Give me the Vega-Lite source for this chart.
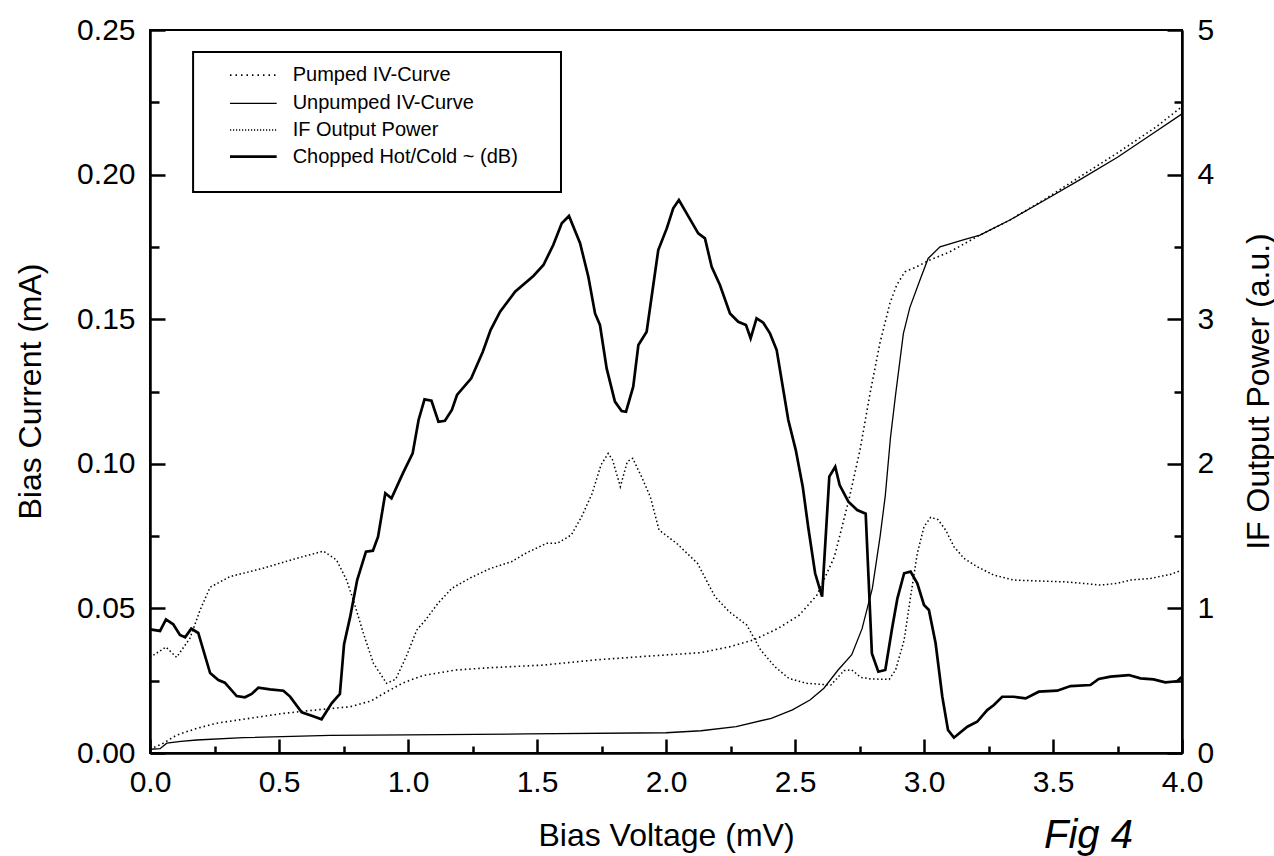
{
"$schema": "https://vega.github.io/schema/vega-lite/v6.json",
"width": 1032, "height": 723,
"autosize": {"type": "none"},
"padding": {"left": 150, "top": 30, "right": 92, "bottom": 103},
"background": "white",
"config": {
 "view": {"stroke": "black", "strokeWidth": 2},
 "font": "Liberation Sans",
 "axis": {"grid": false, "labelFlush": false, "labelOverlap": false, "labelBound": false, "labelColor": "black", "titleColor": "black", "domainColor": "black", "tickColor": "black", "titleFontWeight": "normal", "labelFont": "Liberation Sans", "titleFont": "Liberation Sans"}
},
"datasets": {
 "pumped": [
  {"v":0,"i":0.0013},{"v":0.052,"i":0.0034},{"v":0.103,"i":0.0062},{"v":0.181,"i":0.0085},{"v":0.258,"i":0.0103},{"v":0.387,"i":0.012},{"v":0.517,"i":0.0137},{"v":0.646,"i":0.0149},{"v":0.776,"i":0.016},{"v":0.857,"i":0.018},{"v":0.904,"i":0.0205},{"v":0.982,"i":0.0243},{"v":1.059,"i":0.0268},{"v":1.184,"i":0.0287},{"v":1.32,"i":0.0295},{"v":1.524,"i":0.0304},{"v":1.728,"i":0.0322},{"v":1.932,"i":0.0335},{"v":2.136,"i":0.0347},{"v":2.245,"i":0.0367},{"v":2.34,"i":0.0391},{"v":2.435,"i":0.0431},{"v":2.517,"i":0.0477},{"v":2.585,"i":0.0546},{"v":2.653,"i":0.0679},{"v":2.71,"i":0.088},{"v":2.752,"i":0.1048},{"v":2.791,"i":0.1244},{"v":2.829,"i":0.1417},{"v":2.868,"i":0.1555},{"v":2.894,"i":0.1618},{"v":2.926,"i":0.1664},{"v":2.971,"i":0.1681},{"v":3.016,"i":0.1702},{"v":3.1,"i":0.1733},{"v":3.217,"i":0.1791},{"v":3.333,"i":0.1843},{"v":3.469,"i":0.1915},{"v":3.6,"i":0.199},{"v":3.75,"i":0.2075},{"v":3.9,"i":0.2165},{"v":4.0,"i":0.2235}
 ],
 "unpumped": [
  {"v":0,"i":0.0013},{"v":0.039,"i":0.0015},{"v":0.065,"i":0.0034},{"v":0.12,"i":0.004},{"v":0.181,"i":0.0045},{"v":0.362,"i":0.0053},{"v":0.697,"i":0.0061},{"v":1.0,"i":0.0063},{"v":1.46,"i":0.0066},{"v":2.0,"i":0.007},{"v":2.136,"i":0.0077},{"v":2.272,"i":0.0091},{"v":2.408,"i":0.012},{"v":2.49,"i":0.0149},{"v":2.558,"i":0.0183},{"v":2.612,"i":0.0224},{"v":2.667,"i":0.0287},{"v":2.72,"i":0.034},{"v":2.76,"i":0.043},{"v":2.8,"i":0.057},{"v":2.83,"i":0.075},{"v":2.85,"i":0.089},{"v":2.87,"i":0.109},{"v":2.89,"i":0.124},{"v":2.92,"i":0.145},{"v":2.945,"i":0.154},{"v":2.984,"i":0.1635},{"v":3.016,"i":0.171},{"v":3.062,"i":0.175},{"v":3.152,"i":0.1774},{"v":3.217,"i":0.1791},{"v":3.333,"i":0.1843},{"v":3.469,"i":0.1912},{"v":3.6,"i":0.198},{"v":3.75,"i":0.206},{"v":3.9,"i":0.215},{"v":4.0,"i":0.221}
 ],
 "ifp": [
  {"v":0,"p":0.662},{"v":0.062,"p":0.732},{"v":0.103,"p":0.662},{"v":0.155,"p":0.794},{"v":0.194,"p":0.988},{"v":0.233,"p":1.146},{"v":0.31,"p":1.22},{"v":0.439,"p":1.278},{"v":0.568,"p":1.346},{"v":0.672,"p":1.396},{"v":0.723,"p":1.335},{"v":0.762,"p":1.196},{"v":0.788,"p":1.058},{"v":0.827,"p":0.828},{"v":0.866,"p":0.62},{"v":0.917,"p":0.482},{"v":0.952,"p":0.51},{"v":0.993,"p":0.666},{"v":1.034,"p":0.85},{"v":1.068,"p":0.92},{"v":1.116,"p":1.035},{"v":1.17,"p":1.139},{"v":1.238,"p":1.208},{"v":1.32,"p":1.277},{"v":1.401,"p":1.323},{"v":1.456,"p":1.381},{"v":1.537,"p":1.45},{"v":1.578,"p":1.45},{"v":1.633,"p":1.508},{"v":1.673,"p":1.634},{"v":1.714,"p":1.796},{"v":1.748,"p":1.992},{"v":1.776,"p":2.072},{"v":1.793,"p":2.026},{"v":1.823,"p":1.842},{"v":1.85,"p":2.015},{"v":1.871,"p":2.038},{"v":1.905,"p":1.911},{"v":1.939,"p":1.773},{"v":1.973,"p":1.542},{"v":2.041,"p":1.45},{"v":2.122,"p":1.312},{"v":2.19,"p":1.081},{"v":2.245,"p":0.977},{"v":2.313,"p":0.885},{"v":2.367,"p":0.712},{"v":2.422,"p":0.597},{"v":2.476,"p":0.516},{"v":2.544,"p":0.482},{"v":2.639,"p":0.47},{"v":2.69,"p":0.57},{"v":2.72,"p":0.575},{"v":2.755,"p":0.523},{"v":2.794,"p":0.512},{"v":2.865,"p":0.509},{"v":2.89,"p":0.574},{"v":2.923,"p":0.781},{"v":2.948,"p":1.081},{"v":2.974,"p":1.38},{"v":3.0,"p":1.565},{"v":3.026,"p":1.63},{"v":3.054,"p":1.614},{"v":3.084,"p":1.542},{"v":3.116,"p":1.427},{"v":3.155,"p":1.346},{"v":3.206,"p":1.288},{"v":3.271,"p":1.23},{"v":3.348,"p":1.196},{"v":3.439,"p":1.19},{"v":3.542,"p":1.184},{"v":3.619,"p":1.173},{"v":3.684,"p":1.161},{"v":3.748,"p":1.173},{"v":3.8,"p":1.196},{"v":3.877,"p":1.207},{"v":3.955,"p":1.235},{"v":4.0,"p":1.265}
 ],
 "chop": [
  {"v":0,"p":0.855},{"v":0.039,"p":0.844},{"v":0.062,"p":0.924},{"v":0.09,"p":0.89},{"v":0.116,"p":0.816},{"v":0.136,"p":0.8},{"v":0.16,"p":0.86},{"v":0.187,"p":0.83},{"v":0.233,"p":0.553},{"v":0.265,"p":0.505},{"v":0.29,"p":0.486},{"v":0.336,"p":0.394},{"v":0.368,"p":0.385},{"v":0.394,"p":0.408},{"v":0.42,"p":0.452},{"v":0.465,"p":0.44},{"v":0.517,"p":0.431},{"v":0.543,"p":0.39},{"v":0.588,"p":0.281},{"v":0.627,"p":0.258},{"v":0.665,"p":0.233},{"v":0.704,"p":0.344},{"v":0.736,"p":0.408},{"v":0.752,"p":0.75},{"v":0.776,"p":0.943},{"v":0.803,"p":1.196},{"v":0.837,"p":1.392},{"v":0.864,"p":1.399},{"v":0.884,"p":1.496},{"v":0.912,"p":1.796},{"v":0.936,"p":1.761},{"v":0.98,"p":1.934},{"v":1.018,"p":2.072},{"v":1.041,"p":2.303},{"v":1.064,"p":2.446},{"v":1.091,"p":2.436},{"v":1.118,"p":2.291},{"v":1.143,"p":2.298},{"v":1.17,"p":2.372},{"v":1.19,"p":2.476},{"v":1.245,"p":2.591},{"v":1.29,"p":2.775},{"v":1.32,"p":2.925},{"v":1.357,"p":3.052},{"v":1.415,"p":3.19},{"v":1.486,"p":3.299},{"v":1.525,"p":3.375},{"v":1.563,"p":3.513},{"v":1.596,"p":3.663},{"v":1.624,"p":3.714},{"v":1.667,"p":3.525},{"v":1.699,"p":3.294},{"v":1.725,"p":3.04},{"v":1.744,"p":2.96},{"v":1.77,"p":2.66},{"v":1.802,"p":2.43},{"v":1.828,"p":2.365},{"v":1.845,"p":2.36},{"v":1.873,"p":2.533},{"v":1.893,"p":2.822},{"v":1.925,"p":2.913},{"v":1.97,"p":3.478},{"v":2.003,"p":3.628},{"v":2.028,"p":3.767},{"v":2.05,"p":3.824},{"v":2.08,"p":3.732},{"v":2.125,"p":3.594},{"v":2.151,"p":3.559},{"v":2.177,"p":3.363},{"v":2.209,"p":3.237},{"v":2.248,"p":3.04},{"v":2.28,"p":2.982},{"v":2.31,"p":2.96},{"v":2.328,"p":2.868},{"v":2.351,"p":3.006},{"v":2.377,"p":2.976},{"v":2.403,"p":2.902},{"v":2.429,"p":2.787},{"v":2.474,"p":2.303},{"v":2.503,"p":2.095},{"v":2.53,"p":1.842},{"v":2.551,"p":1.565},{"v":2.578,"p":1.243},{"v":2.605,"p":1.081},{"v":2.633,"p":1.911},{"v":2.656,"p":1.98},{"v":2.673,"p":1.853},{"v":2.707,"p":1.738},{"v":2.741,"p":1.68},{"v":2.774,"p":1.655},{"v":2.798,"p":0.689},{"v":2.823,"p":0.562},{"v":2.85,"p":0.574},{"v":2.877,"p":0.87},{"v":2.897,"p":1.07},{"v":2.923,"p":1.243},{"v":2.948,"p":1.254},{"v":2.974,"p":1.173},{"v":3.0,"p":1.024},{"v":3.019,"p":0.989},{"v":3.045,"p":0.759},{"v":3.071,"p":0.389},{"v":3.093,"p":0.159},{"v":3.116,"p":0.106},{"v":3.168,"p":0.182},{"v":3.206,"p":0.216},{"v":3.245,"p":0.297},{"v":3.271,"p":0.332},{"v":3.303,"p":0.389},{"v":3.348,"p":0.389},{"v":3.394,"p":0.378},{"v":3.445,"p":0.424},{"v":3.516,"p":0.431},{"v":3.568,"p":0.463},{"v":3.645,"p":0.47},{"v":3.677,"p":0.512},{"v":3.723,"p":0.528},{"v":3.794,"p":0.539},{"v":3.839,"p":0.516},{"v":3.89,"p":0.509},{"v":3.935,"p":0.489},{"v":3.981,"p":0.496},{"v":4.0,"p":0.528}
 ],
 "legend": [
  {"s":"P","name":"Pumped IV-Curve","y":0.2344,"x1":0.31,"x2":0.491,"tx":0.553},
  {"s":"U","name":"Unpumped IV-Curve","y":0.2246,"x1":0.31,"x2":0.491,"tx":0.553},
  {"s":"F","name":"IF Output Power","y":0.2154,"x1":0.31,"x2":0.491,"tx":0.553},
  {"s":"C","name":"Chopped Hot/Cold ~ (dB)","y":0.2062,"x1":0.31,"x2":0.491,"tx":0.553}
 ]
},
"layer": [
 {
  "data": {"name": "pumped"},
  "mark": {"type": "line", "color": "black", "strokeDash": [1.5, 3], "strokeWidth": 1.6},
  "encoding": {
   "x": {"field": "v", "type": "quantitative", "scale": {"domain": [0, 4], "nice": false, "zero": false},
         "axis": {"orient": "bottom", "values": [0,0.5,1,1.5,2,2.5,3,3.5,4], "format": ".1f", "ticks": false, "domain": true, "domainWidth": 2.5, "labelFontSize": 30, "labelPadding": 14, "title": "Bias Voltage (mV)", "titleFontSize": 32, "titleX": 516, "titleY": 92, "titleAlign": "center", "titleBaseline": "alphabetic"}},
   "y": {"field": "i", "type": "quantitative", "scale": {"domain": [0, 0.25], "nice": false},
         "axis": {"orient": "left", "values": [0,0.05,0.1,0.15,0.2,0.25], "format": ".2f", "ticks": false, "domain": true, "domainWidth": 2.5, "labelFontSize": 30, "labelPadding": 15, "title": "Bias Current (mA)", "titleFontSize": 32, "titleAngle": 270, "titleX": -110, "titleY": 361, "titleAlign": "center", "titleBaseline": "alphabetic"}}
  }
 },
 {
  "data": {"name": "unpumped"},
  "mark": {"type": "line", "color": "black", "strokeWidth": 1.3},
  "encoding": {
   "x": {"field": "v", "type": "quantitative", "scale": {"domain": [0, 4], "nice": false, "zero": false},
         "axis": {"orient": "bottom", "values": [0,0.5,1,1.5,2,2.5,3,3.5,4], "labels": false, "domain": false, "ticks": true, "tickSize": -14, "tickWidth": 2.5, "title": null}},
   "y": {"field": "i", "type": "quantitative", "scale": {"domain": [0, 0.25], "nice": false},
         "axis": {"orient": "left", "values": [0,0.05,0.1,0.15,0.2,0.25], "labels": false, "domain": false, "ticks": true, "tickSize": -15, "tickWidth": 2.5, "title": null}}
  }
 },
 {
  "data": {"name": "ifp"},
  "mark": {"type": "line", "color": "black", "strokeDash": [1.5, 2.5], "strokeWidth": 1.5},
  "encoding": {
   "x": {"field": "v", "type": "quantitative", "scale": {"domain": [0, 4], "nice": false, "zero": false},
         "axis": {"orient": "bottom", "values": [0.25,0.75,1.25,1.75,2.25,2.75,3.25,3.75], "labels": false, "domain": false, "ticks": true, "tickSize": -7, "tickWidth": 2.5, "title": null}},
   "y": {"field": "p", "type": "quantitative", "scale": {"domain": [0, 5], "nice": false},
         "axis": {"orient": "right", "values": [0,1,2,3,4,5], "format": "d", "ticks": false, "domain": true, "domainWidth": 2.5, "labelFontSize": 30, "labelPadding": 15, "title": "IF Output Power (a.u.)", "titleFontSize": 32, "titleAngle": 270, "titleX": 86, "titleY": 361, "titleAlign": "center", "titleBaseline": "alphabetic"}}
  }
 },
 {
  "data": {"name": "chop"},
  "mark": {"type": "line", "color": "black", "strokeWidth": 2.7},
  "encoding": {
   "x": {"field": "v", "type": "quantitative", "scale": {"domain": [0, 4], "nice": false, "zero": false}, "axis": null},
   "y": {"field": "p", "type": "quantitative", "scale": {"domain": [0, 5], "nice": false},
         "axis": {"orient": "right", "values": [0,1,2,3,4,5], "labels": false, "domain": false, "ticks": true, "tickSize": -15, "tickWidth": 2.5, "title": null}}
  }
 },
 {
  "data": {"name": "chop"},
  "mark": {"type": "point", "opacity": 0, "size": 1},
  "encoding": {
   "x": {"field": "v", "type": "quantitative", "scale": {"domain": [0, 4], "nice": false, "zero": false}, "axis": null},
   "y": {"field": "p", "type": "quantitative", "scale": {"domain": [0, 5], "nice": false},
         "axis": {"orient": "right", "values": [0.5,1.5,2.5,3.5,4.5], "labels": false, "domain": false, "ticks": true, "tickSize": -8, "tickWidth": 2.5, "title": null}}
  }
 },
 {
  "data": {"values": [{"x1": 0.167, "x2": 1.593, "y1": 0.194, "y2": 0.2424}]},
  "mark": {"type": "rect", "fill": "white", "stroke": "black", "strokeWidth": 2},
  "encoding": {
   "x": {"field": "x1", "type": "quantitative", "scale": {"domain": [0, 4], "nice": false, "zero": false}, "axis": null},
   "x2": {"field": "x2"},
   "y": {"field": "y1", "type": "quantitative", "scale": {"domain": [0, 0.25], "nice": false},
         "axis": {"orient": "left", "values": [0.025,0.075,0.125,0.175,0.225], "labels": false, "domain": false, "ticks": true, "tickSize": -9, "tickWidth": 2.5, "title": null}},
   "y2": {"field": "y2"}
  }
 },
 {
  "data": {"name": "legend"},
  "transform": [{"filter": "datum.s == 'P'"}],
  "mark": {"type": "rule", "color": "black", "strokeDash": [1.5, 4], "strokeWidth": 1.6},
  "encoding": {
   "x": {"field": "x1", "type": "quantitative", "scale": {"domain": [0, 4], "nice": false, "zero": false}, "axis": null},
   "x2": {"field": "x2"},
   "y": {"field": "y", "type": "quantitative", "scale": {"domain": [0, 0.25], "nice": false}, "axis": null}
  }
 },
 {
  "data": {"name": "legend"},
  "transform": [{"filter": "datum.s == 'U'"}],
  "mark": {"type": "rule", "color": "black", "strokeWidth": 1.3},
  "encoding": {
   "x": {"field": "x1", "type": "quantitative", "scale": {"domain": [0, 4], "nice": false, "zero": false}, "axis": null},
   "x2": {"field": "x2"},
   "y": {"field": "y", "type": "quantitative", "scale": {"domain": [0, 0.25], "nice": false}, "axis": null}
  }
 },
 {
  "data": {"name": "legend"},
  "transform": [{"filter": "datum.s == 'F'"}],
  "mark": {"type": "rule", "color": "black", "strokeDash": [1.2, 1.8], "strokeWidth": 1.4},
  "encoding": {
   "x": {"field": "x1", "type": "quantitative", "scale": {"domain": [0, 4], "nice": false, "zero": false}, "axis": null},
   "x2": {"field": "x2"},
   "y": {"field": "y", "type": "quantitative", "scale": {"domain": [0, 0.25], "nice": false}, "axis": null}
  }
 },
 {
  "data": {"name": "legend"},
  "transform": [{"filter": "datum.s == 'C'"}],
  "mark": {"type": "rule", "color": "black", "strokeWidth": 2.7},
  "encoding": {
   "x": {"field": "x1", "type": "quantitative", "scale": {"domain": [0, 4], "nice": false, "zero": false}, "axis": null},
   "x2": {"field": "x2"},
   "y": {"field": "y", "type": "quantitative", "scale": {"domain": [0, 0.25], "nice": false}, "axis": null}
  }
 },
 {
  "data": {"name": "legend"},
  "mark": {"type": "text", "align": "left", "baseline": "middle", "fontSize": 20, "font": "Liberation Sans", "color": "black"},
  "encoding": {
   "x": {"field": "tx", "type": "quantitative", "scale": {"domain": [0, 4], "nice": false, "zero": false}, "axis": null},
   "y": {"field": "y", "type": "quantitative", "scale": {"domain": [0, 0.25], "nice": false}, "axis": null},
   "text": {"field": "name"}
  }
 },
 {
  "data": {"values": [{"x": 3.81, "y": -0.0328, "t": "Fig 4"}]},
  "mark": {"type": "text", "align": "right", "baseline": "alphabetic", "fontSize": 40, "fontStyle": "italic", "font": "Liberation Sans", "color": "black"},
  "encoding": {
   "x": {"field": "x", "type": "quantitative", "scale": {"domain": [0, 4], "nice": false, "zero": false}, "axis": null},
   "y": {"field": "y", "type": "quantitative", "scale": {"domain": [0, 0.25], "nice": false}, "axis": null},
   "text": {"field": "t"}
  }
 }
],
"resolve": {"scale": {"y": "independent"}, "axis": {"x": "independent", "y": "independent"}}
}
